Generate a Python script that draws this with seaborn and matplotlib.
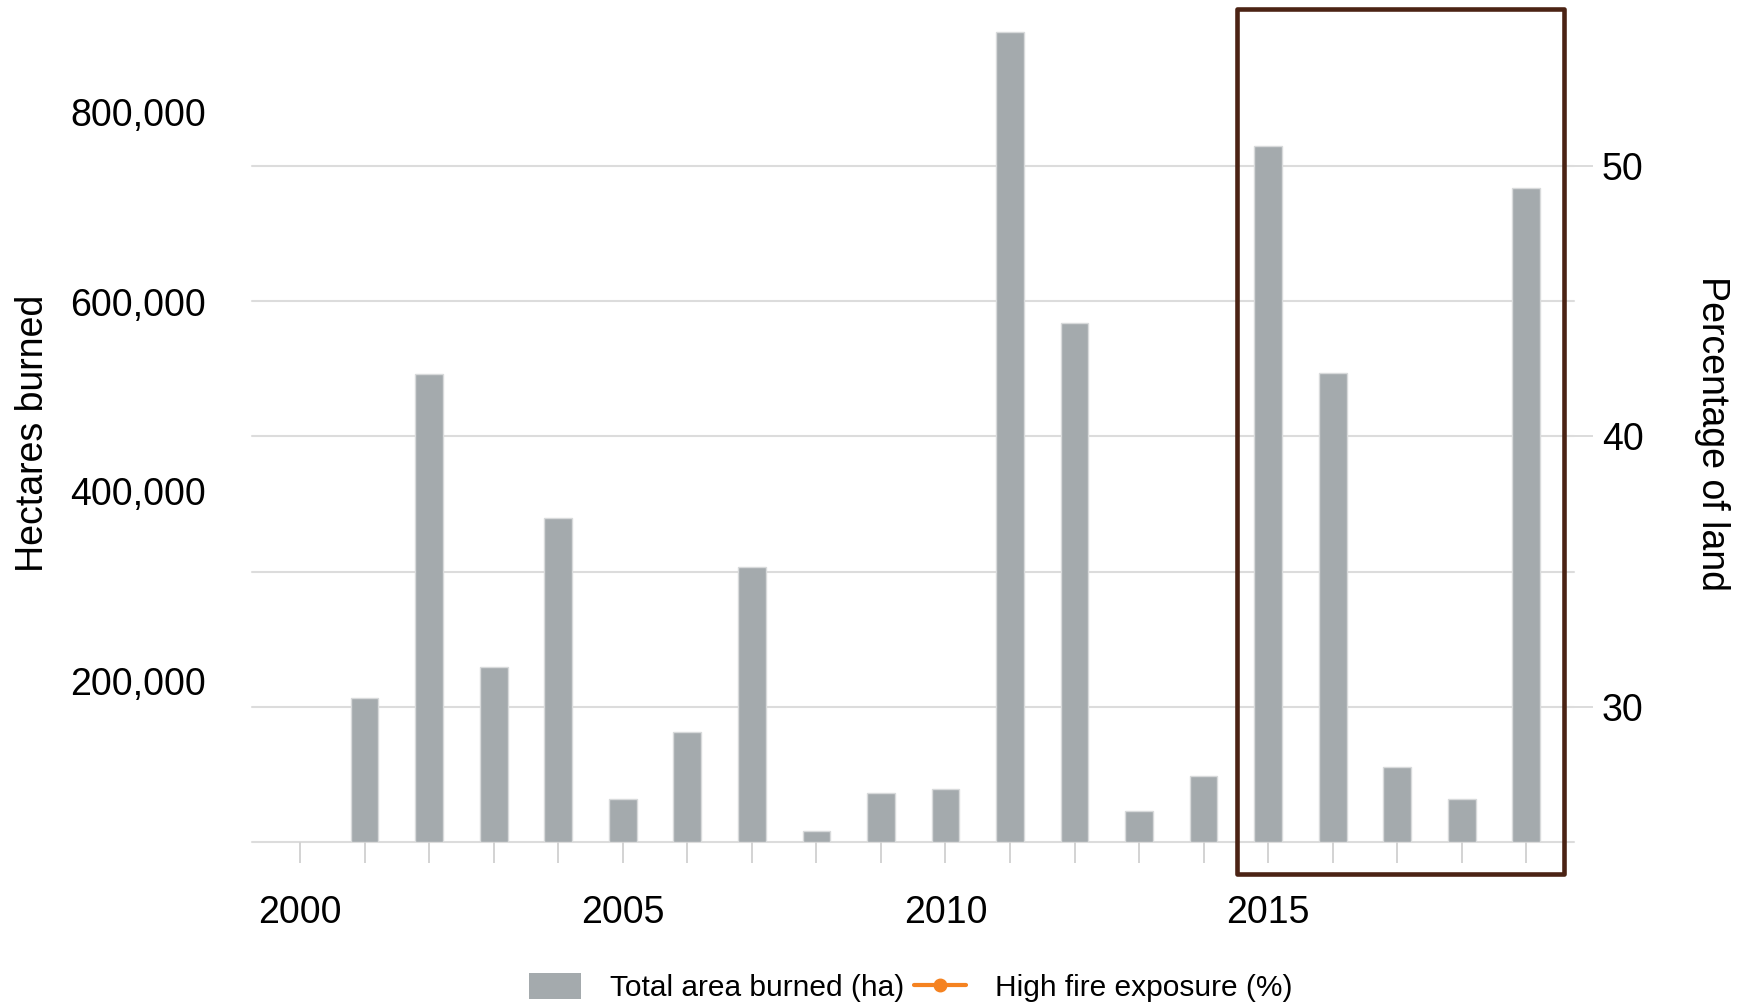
import matplotlib

matplotlib.use("Agg")
import matplotlib.pyplot as plt
import matplotlib.transforms as mtransforms
import pandas as pd
import seaborn as sns
from matplotlib.lines import Line2D
from matplotlib.patches import Patch, Rectangle

# данные
years = [2001, 2002, 2003, 2004, 2005, 2006, 2007, 2008, 2009, 2010,
         2011, 2012, 2013, 2014, 2015, 2016, 2017, 2018, 2019]
area_burned = [152000, 494000, 185000, 342000, 45000, 116000, 290000,
               12000, 52000, 56000, 855000, 548000, 33000, 70000,
               735000, 495000, 79000, 45000, 691000]
left_ticks = [200000, 400000, 600000, 800000]
right_ticks = [30, 40, 50]
right_minor = [25, 35, 45]
year_ticks = [2000, 2005, 2010, 2015]
highlight_years = (2014.52, 2019.58)

BAR_COLOR = "#a4aaad"
GRID_COLOR = "#dcdcdc"
ORANGE = "#f58220"
BOX_COLOR = "#4b2314"

sns.set_theme(style="white")
plt.rcParams["font.family"] = ["Liberation Sans", "DejaVu Sans"]
plt.rcParams["text.color"] = "black"
plt.rcParams["axes.labelcolor"] = "black"

df = pd.DataFrame({"year": years, "area": area_burned})

fig = plt.figure(figsize=(17.48, 10.05), dpi=100)
ax = fig.add_axes([0.1442, 0.1622, 0.9005 - 0.1442, 0.991 - 0.1622])
ax2 = ax.twinx()

sns.barplot(
    data=df, x="year", y="area", native_scale=True, width=0.43,
    color=BAR_COLOR, saturation=1, edgecolor="#d8dadb", linewidth=1,
    errorbar=None, ax=ax,
)

# бары поверх сетки правой оси
ax.set_zorder(ax2.get_zorder() + 1)
ax.patch.set_visible(False)

ax.set_xlim(1999.256, 2019.74)
ax.set_ylim(0, 879600)
ax2.set_ylim(25, 55.8)

# ось X: штрихи каждый год, подписи раз в 5 лет
ax.set_xticks(year_ticks)
ax.set_xticklabels([str(y) for y in year_ticks])
ax.set_xticks(range(2000, 2020), minor=True)
ax.tick_params(axis="x", which="both", length=15, width=1.4,
               color="#d3d3d3", direction="out", bottom=True)
ax.tick_params(axis="x", which="major", labelsize=27, pad=23,
               labelcolor="black")
ax.set_xlabel("")

# левая ось
ax.set_yticks(left_ticks)
ax.set_yticklabels([f"{v:,}" for v in left_ticks])
ax.tick_params(axis="y", length=0, labelsize=27, pad=33,
               labelcolor="black")
shift = mtransforms.ScaledTranslation(0, -0.28, fig.dpi_scale_trans)
for lbl in ax.get_yticklabels():
    lbl.set_transform(lbl.get_transform() + shift)
ax.set_ylabel("Hectares burned", fontsize=27)
ax.yaxis.set_label_coords(-0.152, 0.49)

# правая ось с сеткой
ax2.set_yticks(right_ticks)
ax2.set_yticks(right_minor, minor=True)
ax2.tick_params(axis="y", which="major", length=14, width=1.4,
                color=GRID_COLOR, labelsize=27, pad=6, right=True,
                labelcolor="black")
ax2.tick_params(axis="y", which="minor", length=0)
ax2.grid(True, which="both", axis="y", color=GRID_COLOR, linewidth=1.5)
ax2.grid(False, axis="x")
for tick in ax2.yaxis.get_major_ticks() + ax2.yaxis.get_minor_ticks():
    tick.gridline.set_clip_on(False)
ax2.set_ylabel("Percentage of land", fontsize=27, rotation=270)
ax2.yaxis.set_label_coords(1.118, 0.49)

for a in (ax, ax2):
    for s in a.spines.values():
        s.set_visible(False)

# рамка вокруг 2015-2019
trans = mtransforms.blended_transform_factory(ax.transData, ax.transAxes)
box = Rectangle(
    (highlight_years[0], -0.038), highlight_years[1] - highlight_years[0],
    1.038, transform=trans, fill=False, edgecolor=BOX_COLOR,
    linewidth=3.3, joinstyle="round", clip_on=False, zorder=10,
)
ax.add_patch(box)

handles = [
    Patch(facecolor=BAR_COLOR, edgecolor="none"),
    Line2D([], [], color=ORANGE, linewidth=3, marker="o", markersize=9),
]
fig.legend(
    handles, ["Total area burned (ha)", "High fire exposure (%)"],
    loc="center", bbox_to_anchor=(0.521, 0.017), ncol=2, frameon=False,
    fontsize=21.5, handlelength=1.77, handleheight=0.94,
    handletextpad=0.97, columnspacing=0.3, borderpad=0,
)

fig.savefig("out.png", dpi=100)
